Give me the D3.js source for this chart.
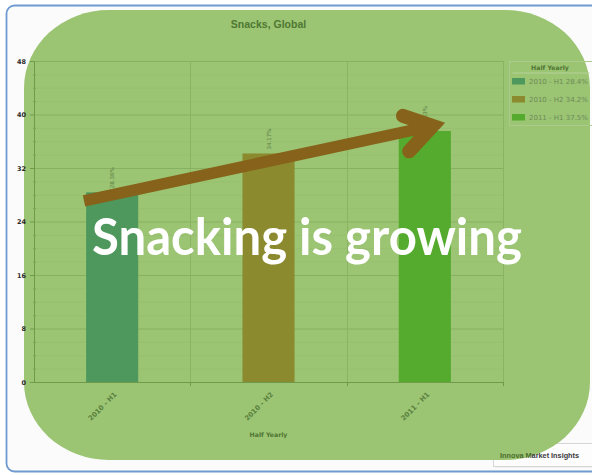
<!DOCTYPE html>
<html>
<head>
<meta charset="utf-8">
<script src="https://cdn.jsdelivr.net/npm/d3@7/dist/d3.min.js"></script>
<style>
  html, body { margin: 0; padding: 0; background: #ffffff; }
  svg { display: block; }
</style>
</head>
<body>
<svg id="chart" width="592" height="475"></svg>
<script>
// Snack share by half-year period
const categories   = ["2010 - H1", "2010 - H2", "2011 - H1"];
const shares       = [28.36, 34.17, 37.53];
const shareLabels  = ["28.36%", "34.17%", "37.53%"];
const legendLabels = ["2010 - H1 28.4%", "2010 - H2 34.2%", "2011 - H1 37.5%"];
const barColors    = ["#4e975d", "#8b8a2f", "#54ab2e"];
const yTicks       = [0, 8, 16, 24, 32, 40, 48];
const minorStep    = 2;

// Trend arrow, given as [category index, position inside band, value]
const arrowShaft = [[0, 0.32, 27.1], [2, 0.55, 38.3]];
const arrowHead  = [[2, 0.36, 39.8], [2, 0.55, 38.3], [2, 0.40, 34.5]];

const svg = d3.select("#chart");
const plot = { left: 34, right: 503, top: 61, bottom: 382 };

const x = d3.scaleBand().domain(categories).range([plot.left, plot.right]).padding(0);
const y = d3.scaleLinear().domain([0, 48]).range([plot.bottom, plot.top]);
const bw = x.bandwidth();

// ---- page frame -------------------------------------------------------
svg.append("rect")
  .attr("x", 6.5).attr("y", 5.5).attr("width", 640).attr("height", 466)
  .attr("rx", 8)
  .attr("fill", "#fbfbfb").attr("stroke", "#6f9bd0").attr("stroke-width", 1.8);

// credit box (sits under the highlight panel)
svg.append("rect")
  .attr("x", 494.5).attr("y", 444.5).attr("width", 120).attr("height", 23)
  .attr("fill", "#e9e9e9");
svg.append("rect")
  .attr("x", 493.5).attr("y", 443.5).attr("width", 120).attr("height", 23)
  .attr("fill", "#fdfdfd").attr("stroke", "#d6d6d6");

// ---- green highlight panel -------------------------------------------
svg.append("rect")
  .attr("x", 24).attr("y", 10).attr("width", 566).attr("height", 450)
  .attr("rx", 85).attr("ry", 78)
  .attr("fill", "#9bc473");

// ---- title ------------------------------------------------------------
svg.append("text")
  .attr("x", (plot.left + plot.right) / 2).attr("y", 28)
  .attr("text-anchor", "middle")
  .attr("font-family", "'Liberation Sans', Arial, sans-serif")
  .attr("font-weight", "bold").attr("font-size", 10.5)
  .attr("fill", "#4f7832")
  .text("Snacks, Global");

// ---- grid -------------------------------------------------------------
const grid = svg.append("g");
const minorTicks = d3.range(0, 48 + 0.001, minorStep).filter(v => v % 8 !== 0);
grid.selectAll("line.minor").data(minorTicks).join("line")
  .attr("x1", plot.left).attr("x2", plot.right)
  .attr("y1", d => y(d) + 0.5).attr("y2", d => y(d) + 0.5)
  .attr("stroke", "#97bf6f").attr("stroke-width", 1);
grid.selectAll("line.major").data(yTicks.filter(v => v > 0)).join("line")
  .attr("x1", plot.left).attr("x2", plot.right)
  .attr("y1", d => y(d) + 0.5).attr("y2", d => y(d) + 0.5)
  .attr("stroke", "#88b061").attr("stroke-width", 1);
grid.selectAll("line.vert").data(categories.slice(1).map(c => x(c)).concat([plot.right])).join("line")
  .attr("x1", d => Math.round(d) + 0.5).attr("x2", d => Math.round(d) + 0.5)
  .attr("y1", plot.top).attr("y2", plot.bottom)
  .attr("stroke", "#8bb363").attr("stroke-width", 1);

// ---- bars -------------------------------------------------------------
svg.append("g").selectAll("rect").data(categories).join("rect")
  .attr("x", d => x(d) + bw / 3)
  .attr("width", bw / 3)
  .attr("y", (d, i) => y(shares[i]))
  .attr("height", (d, i) => y(0) - y(shares[i]))
  .attr("fill", (d, i) => barColors[i]);

// value labels, vertical above each bar
svg.append("g").selectAll("text").data(categories).join("text")
  .attr("transform", (d, i) => `translate(${x(d) + bw / 2 + 2},${y(shares[i]) - 4}) rotate(-90)`)
  .attr("font-family", "'DejaVu Sans', Verdana, sans-serif")
  .attr("font-size", 5.5)
  .attr("fill", "#5c7d47")
  .text((d, i) => shareLabels[i]);

// ---- y axis -----------------------------------------------------------
const yAxis = svg.append("g")
  .attr("transform", `translate(${plot.left},0)`)
  .call(d3.axisLeft(y).tickValues(yTicks).tickSize(4).tickPadding(4).tickFormat(d3.format("d")));
yAxis.select(".domain").attr("stroke", "#6f9a4b");
yAxis.selectAll(".tick line").attr("stroke", "#6f9a4b");
yAxis.selectAll(".tick text")
  .attr("font-family", "'DejaVu Sans', Verdana, sans-serif")
  .attr("font-weight", "bold").attr("font-size", 6.5)
  .attr("fill", "#2b2b2b");
svg.append("g").selectAll("line").data(minorTicks).join("line")
  .attr("x1", plot.left - 1).attr("x2", plot.left + 2)
  .attr("y1", d => y(d) + 0.5).attr("y2", d => y(d) + 0.5)
  .attr("stroke", "#7ea457");

// ---- x axis -----------------------------------------------------------
const xAxisG = svg.append("g");
xAxisG.append("line")
  .attr("x1", plot.left).attr("x2", plot.right)
  .attr("y1", plot.bottom + 0.5).attr("y2", plot.bottom + 0.5)
  .attr("stroke", "#6f9a4b");
xAxisG.selectAll("line.tk").data(categories.slice(1).map(c => x(c)).concat([plot.right])).join("line")
  .attr("x1", d => Math.round(d) + 0.5).attr("x2", d => Math.round(d) + 0.5)
  .attr("y1", plot.bottom).attr("y2", plot.bottom + 4)
  .attr("stroke", "#6f9a4b");
xAxisG.selectAll("text").data(categories).join("text")
  .attr("transform", d => `translate(${x(d) + bw / 2 + 5},${plot.bottom + 13}) rotate(-45)`)
  .attr("text-anchor", "end")
  .attr("font-family", "'DejaVu Sans', Verdana, sans-serif")
  .attr("font-weight", "bold").attr("font-size", 6.8)
  .attr("fill", "#587f3d")
  .text(d => d);
svg.append("text")
  .attr("x", (plot.left + plot.right) / 2).attr("y", 437)
  .attr("text-anchor", "middle")
  .attr("font-family", "'DejaVu Sans', Verdana, sans-serif")
  .attr("font-weight", "bold").attr("font-size", 6.2)
  .attr("fill", "#4f7432")
  .text("Half Yearly");

// ---- legend -----------------------------------------------------------
const legend = svg.append("g").attr("transform", "translate(509.5,61.5)");
legend.append("rect")
  .attr("width", 90).attr("height", 64)
  .attr("fill", "none").attr("stroke", "#abca8c");
legend.append("text")
  .attr("x", 40.5).attr("y", 8.5)
  .attr("text-anchor", "middle")
  .attr("font-family", "'DejaVu Sans', Verdana, sans-serif")
  .attr("font-weight", "bold").attr("font-size", 6.2)
  .attr("fill", "#4f7432")
  .text("Half Yearly");
legend.append("line")
  .attr("x1", 3).attr("x2", 80).attr("y1", 11.5).attr("y2", 11.5)
  .attr("stroke", "#b5d29b");
const items = legend.selectAll("g.item").data(legendLabels).join("g")
  .attr("transform", (d, i) => `translate(2.5,${16.5 + i * 18})`);
items.append("rect")
  .attr("width", 13).attr("height", 6.5)
  .attr("fill", (d, i) => barColors[i]);
items.append("text")
  .attr("x", 17).attr("y", 5.8)
  .attr("font-family", "'DejaVu Sans', Verdana, sans-serif")
  .attr("font-size", 7)
  .attr("fill", "#6c8a57")
  .text(d => d);

// ---- trend arrow ------------------------------------------------------
const toPx = ([ci, f, v]) => [x(categories[ci]) + f * bw, y(v)];
const line = d3.line();
svg.append("path")
  .attr("d", line(arrowShaft.map(toPx)))
  .attr("fill", "none").attr("stroke", "#87621a")
  .attr("stroke-width", 11.5).attr("stroke-linecap", "butt");
svg.append("path")
  .attr("d", line(arrowHead.map(toPx)))
  .attr("fill", "none").attr("stroke", "#87621a")
  .attr("stroke-width", 14)
  .attr("stroke-linecap", "round").attr("stroke-linejoin", "miter")
  .attr("stroke-miterlimit", 6);

// ---- headline ---------------------------------------------------------
svg.append("text")
  .attr("x", 92).attr("y", 255)
  .attr("textLength", 430).attr("lengthAdjust", "spacingAndGlyphs")
  .attr("font-family", "Lato, 'Open Sans', sans-serif")
  .attr("font-weight", 700).attr("font-size", 51)
  .attr("fill", "#ffffff")
  .text("Snacking is growing");

// ---- credit text (part of it lies on the green panel) -----------------
const defs = svg.append("defs");
const grad = defs.append("linearGradient")
  .attr("id", "creditFill").attr("gradientUnits", "userSpaceOnUse")
  .attr("x1", 500).attr("x2", 590).attr("y1", 0).attr("y2", 0);
const split = (531 - 500) / 90;
[[0, "#4a6b2c"], [split, "#4a6b2c"], [split, "#3a3a3a"], [1, "#3a3a3a"]].forEach(([o, c]) =>
  grad.append("stop").attr("offset", o).attr("stop-color", c));
svg.append("text")
  .attr("x", 500).attr("y", 458)
  .attr("font-family", "'Liberation Sans', Arial, sans-serif")
  .attr("font-weight", "bold").attr("font-size", 7.3)
  .attr("fill", "url(#creditFill)")
  .text("Innova Market Insights");
</script>
</body>
</html>
